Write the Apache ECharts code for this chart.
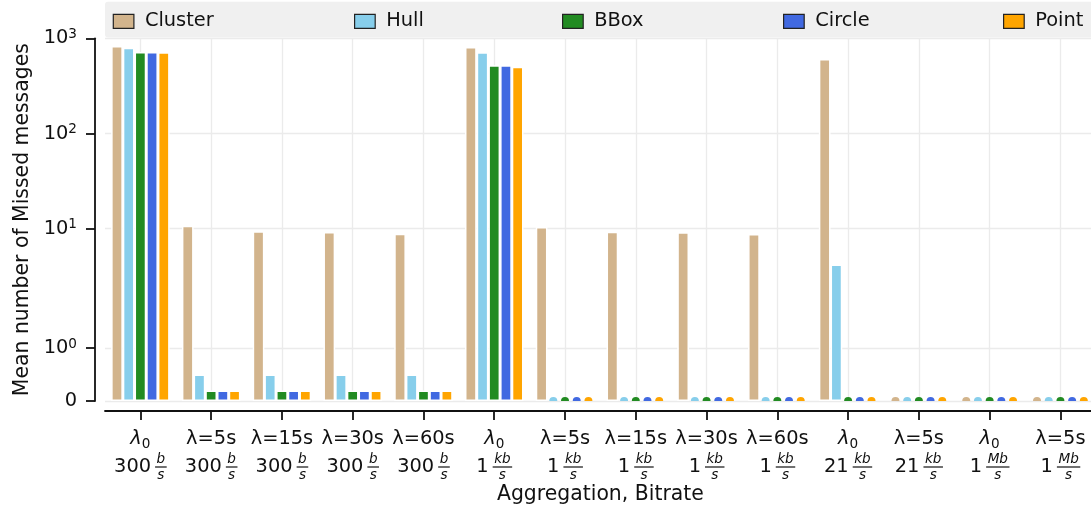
<!DOCTYPE html>
<html><head><meta charset="utf-8">
<script src="https://cdn.jsdelivr.net/npm/echarts@6/dist/echarts.min.js"></script>
<style>html,body{margin:0;padding:0;background:#fff}#c{width:1091px;height:510px}</style>
</head><body><div id="c"></div>
<script>
// ---------------- data ----------------
const seriesNames = ['Cluster', 'Hull', 'BBox', 'Circle', 'Point'];
const aggregations = ['λ0', 'λ=5s', 'λ=15s', 'λ=30s', 'λ=60s', 'λ0', 'λ=5s', 'λ=15s', 'λ=30s', 'λ=60s', 'λ0', 'λ=5s', 'λ0', 'λ=5s'];
const rates = ['300', '300', '300', '300', '300', '1', '1', '1', '1', '1', '21', '21', '1', '1'];
const units = ['b', 'b', 'b', 'b', 'b', 'kb', 'kb', 'kb', 'kb', 'kb', 'kb', 'kb', 'Mb', 'Mb'];
const cluster = [830, 10.75, 9.39, 9.23, 8.86, 811, 10.41, 9.30, 9.17, 8.80, 606, 0, 0, 0];
const hull    = [796, 0.5, 0.5, 0.5, 0.5, 713, 0, 0, 0, 0, 4.2, 0, 0, 0];
const bbox    = [718, 0.2, 0.2, 0.2, 0.2, 520, 0, 0, 0, 0, 0, 0, 0, 0];
const circle  = [718, 0.2, 0.2, 0.2, 0.2, 520, 0, 0, 0, 0, 0, 0, 0, 0];
const point   = [713, 0.2, 0.2, 0.2, 0.2, 503, 0, 0, 0, 0, 0, 0, 0, 0];
const yTickValues = [0, 1, 10, 100, 1000];
const yMaxValue = 1000;
const xAxisName = 'Aggregation, Bitrate';
const yAxisName = 'Mean number of Missed messages';

// ---------------- style ----------------
const colors = ['#d2b48c', '#87ceeb', '#228b22', '#4169e1', '#ffa500'];
const legendLeft = [112.7, 354, 562, 783, 1003];
const FONT = 'DejaVu Sans';
const FS = 19.4, FS2 = 13.6, FSN = 20.4;
const BARW = 11.7;
const INK = '#111';

// symlog transform (linthresh 2, linscale 1, base 10)
const LT = 2, LS = 1 / (1 - 1 / 10);
function symlog(v) {
  const a = Math.abs(v);
  if (a <= LT) return v * LS;
  return Math.sign(v) * LT * (LS + Math.log10(a / LT));
}

const ctx = document.createElement('canvas').getContext('2d');
function tw(text, size, italic) {
  ctx.font = (italic ? 'italic ' : '') + size + 'px "' + FONT + '"';
  return ctx.measureText(text).width;
}

// rich styles for x labels
const xRich = {
  lt: { fontSize: FS, lineHeight: 26, fontFamily: FONT, color: INK },
  li: { fontSize: FS, lineHeight: 26, fontStyle: 'italic', fontFamily: FONT, color: INK },
  sub: { fontSize: FS2, lineHeight: 26, padding: [10, 0, 0, 0], fontFamily: FONT, color: INK },
  n: { fontSize: FS, lineHeight: 2, fontFamily: FONT, color: INK },
  g: { width: 4, lineHeight: 2, fontSize: 1, fontFamily: FONT }
};
[...new Set(rates)].forEach(r => {
  xRich['p' + r] = { width: tw(r, FS) + 4, lineHeight: 14, fontSize: 1, fontFamily: FONT };
});
[...new Set(units)].forEach(u => {
  const w = Math.max(tw(u, FS2, true), tw('s', FS2, true)) + 3;
  xRich['f' + u] = { width: w, fontSize: FS2, fontStyle: 'italic', lineHeight: 14, fontFamily: FONT, color: INK, align: 'center' };
  xRich['d' + u] = { width: w, fontSize: FS2, fontStyle: 'italic', lineHeight: 14, fontFamily: FONT, color: INK, align: 'center' };
  xRich['r' + u] = { width: w, height: 1.2, backgroundColor: INK, fontSize: 1, lineHeight: 2, fontFamily: FONT };
});

function xLabel(v, i) {
  const a = aggregations[i];
  const l1 = a === 'λ0' ? '{li|λ}{sub|0}' : '{lt|' + a + '}';
  const r = rates[i], u = units[i];
  const l2 = '{p' + r + '|}{f' + u + '|' + u + '}';
  const l3 = '{n|' + r + '}{g|}{r' + u + '|}';
  const l4 = '{p' + r + '|}{d' + u + '|s}';
  return [l1, l2, l3, l4].join('\n');
}

const yTickT = yTickValues.map(symlog);
function yLabel(val) {
  const idx = yTickT.findIndex(t => Math.abs(t - val) < 1e-6);
  if (idx < 0) return '';
  const v = yTickValues[idx];
  if (v === 0) return '{b|0}';
  return '{b|10}{e|' + Math.round(Math.log10(v)) + '}';
}

const allData = [cluster, hull, bbox, circle, point];
const series = [];
allData.forEach((arr, k) => {
  series.push({
    name: seriesNames[k], type: 'bar', barWidth: BARW, barGap: '0%',
    data: arr.map(v => v > 0 ? symlog(v) : null),
    itemStyle: { color: colors[k], borderColor: '#ffffff', borderWidth: 1.5 },
    emphasis: { disabled: true }, z: 2
  });
});
allData.forEach((arr, k) => {
  series.push({
    name: seriesNames[k] + ' (0)', type: 'scatter',
    data: arr.map(v => v === 0 ? symlog(0) : null),
    symbol: 'path://M0,10 A10,10 0 0 1 20,10 Z',
    symbolSize: [8, 4], symbolOffset: [(k - 2) * BARW, -2],
    itemStyle: { color: colors[k], opacity: 1 },
    emphasis: { disabled: true }, z: 2
  });
});

const legends = seriesNames.map((n, k) => ({
  data: [{ name: n, icon: 'rect' }], left: legendLeft[k], top: 11.8, padding: 0,
  itemWidth: 20.6, itemHeight: 14, selectedMode: false, z: 6,
  itemStyle: { borderColor: '#222', borderWidth: 1.2 },
  textStyle: { fontFamily: FONT, fontSize: FS, color: INK, padding: [0, 0, 0, 6] }
}));

const chart = echarts.init(document.getElementById('c'), null, { renderer: 'canvas' });
chart.setOption({
  animation: false,
  backgroundColor: '#ffffff',
  textStyle: { fontFamily: FONT },
  grid: { left: 105, right: -4.8, top: 38.3, bottom: 109, containLabel: false, outerBoundsMode: 'none' },
  legend: legends,
  graphic: [{ type: 'rect', shape: { x: 105, y: 1.8, width: 1000, height: 35.8, r: 3 }, style: { fill: '#f0f0f0' }, z: 5, silent: true }],
  xAxis: {
    type: 'category', data: aggregations.map((a, i) => a + ' ' + rates[i] + units[i] + '/s'),
    boundaryGap: true, offset: 10,
    name: xAxisName, nameLocation: 'middle', nameGap: 74, nameMoveOverlap: false,
    nameTextStyle: { fontFamily: FONT, fontSize: FSN, color: INK },
    axisLine: { show: true, onZero: false, lineStyle: { color: INK, width: 1.8 } },
    axisTick: { show: true, alignWithLabel: true, interval: 0, length: 9, lineStyle: { color: INK, width: 1.8 } },
    axisLabel: { interval: 0, margin: 15, formatter: xLabel, rich: xRich, color: INK, fontFamily: FONT, fontSize: FS, hideOverlap: false },
    splitLine: { show: true, alignWithLabel: true, interval: 0, lineStyle: { color: '#ebebeb', width: 1.3 } }
  },
  yAxis: {
    type: 'value', min: 0, max: symlog(yMaxValue), offset: 10,
    name: yAxisName, nameLocation: 'middle', nameGap: 62, nameMoveOverlap: false,
    nameTextStyle: { fontFamily: FONT, fontSize: FSN, color: INK },
    axisLine: { show: true, onZero: false, lineStyle: { color: INK, width: 1.8 } },
    axisTick: { show: true, length: 9, customValues: yTickT, lineStyle: { color: INK, width: 1.8 } },
    axisLabel: {
      customValues: yTickT, formatter: yLabel, margin: 18, color: INK, fontFamily: FONT, fontSize: FS,
      rich: {
        b: { fontSize: FS, fontFamily: FONT, color: INK, lineHeight: 22 },
        e: { fontSize: FS2, fontFamily: FONT, color: INK, lineHeight: 22, padding: [0, 0, 8, 0] }
      }
    },
    splitLine: { show: true, customValues: yTickT, lineStyle: { color: '#ebebeb', width: 1.3 } }
  },
  series: series
});
</script>
</body></html>
